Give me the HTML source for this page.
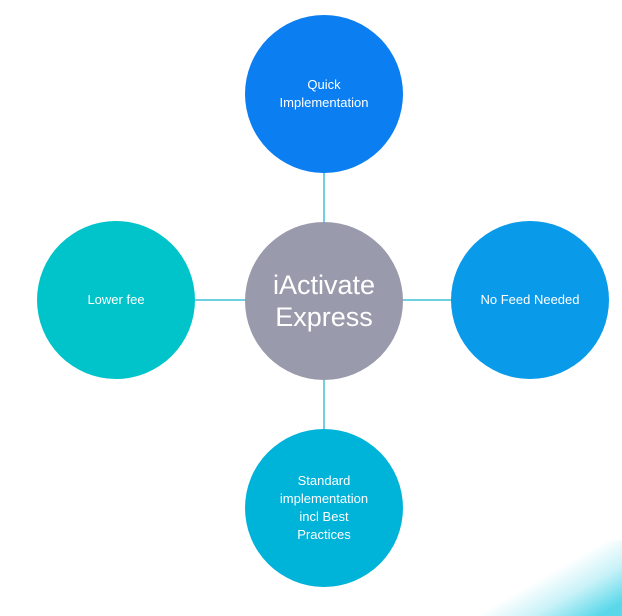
<!DOCTYPE html>
<html><head><style>
html,body{margin:0;width:622px;height:616px;overflow:hidden}
body{background:#fff;position:relative;font-family:"Liberation Sans",sans-serif}
.c{position:absolute;width:158px;height:158px;border-radius:50%;display:flex;align-items:center;justify-content:center;text-align:center;color:#fff;font-size:13px;line-height:18px}
.l{position:absolute;background:#6fd0e2}
</style></head><body>
<div style="position:absolute;left:460px;top:540px;width:162px;height:76px;background:linear-gradient(150deg,rgba(255,255,255,0) 50%,#c8f2f8 70%,#5ad8ea 92%);"></div>
<div class="l" style="left:323px;top:172px;width:2px;height:52px"></div>
<div class="l" style="left:323px;top:378px;width:2px;height:54px"></div>
<div class="l" style="left:195px;top:299px;width:52px;height:2px"></div>
<div class="l" style="left:401px;top:299px;width:52px;height:2px"></div>
<div class="c" style="left:245px;top:15px;background:#0b7ef2">Quick<br>Implementation</div>
<div class="c" style="left:245px;top:222px;background:#9a9aad;font-size:27px;line-height:32px">iActivate<br>Express</div>
<div class="c" style="left:37px;top:221px;background:#00c4c9">Lower fee</div>
<div class="c" style="left:451px;top:221px;background:#0a9aea">No Feed Needed</div>
<div class="c" style="left:245px;top:429px;background:#00b3d9">Standard<br>implementation<br>incl Best<br>Practices</div>
</body></html>
